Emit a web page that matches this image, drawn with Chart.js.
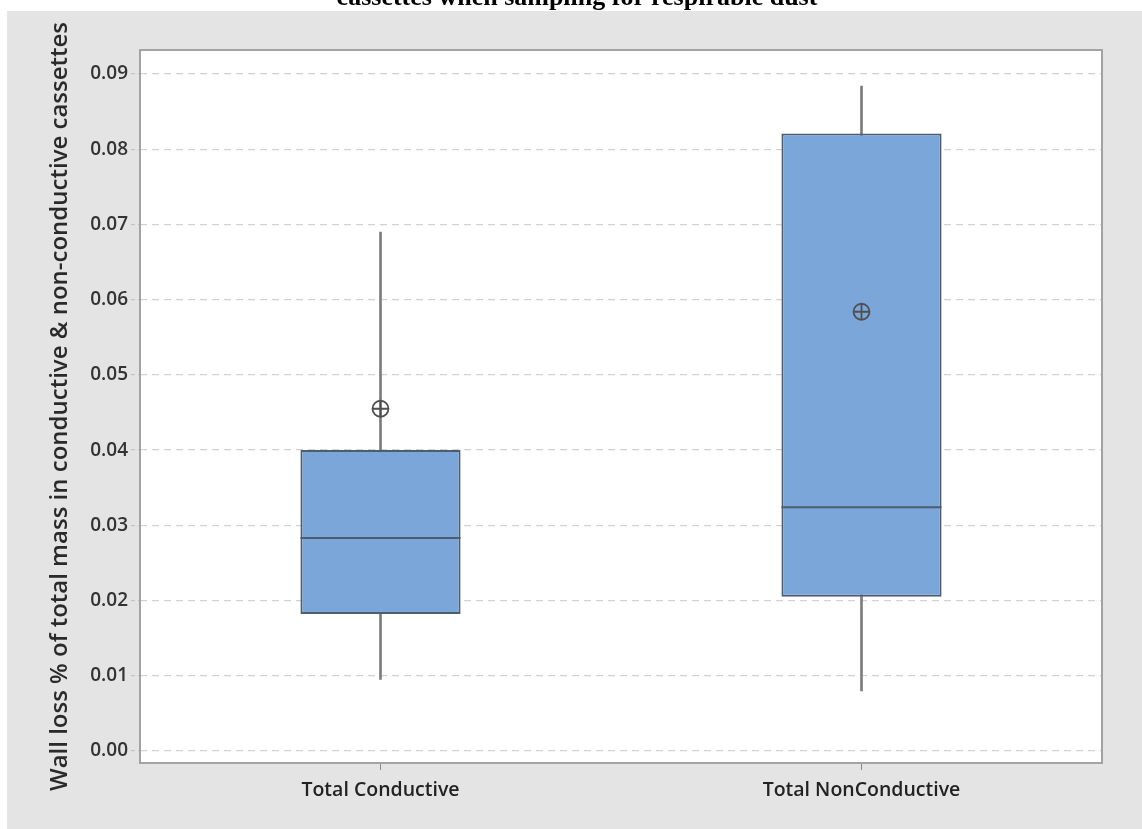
<!DOCTYPE html>
<html><head><meta charset="utf-8">
<script src="https://cdn.jsdelivr.net/npm/chart.js@4/dist/chart.umd.min.js"></script>
<style>
html,body{margin:0;padding:0;background:#fff;width:1142px;height:829px;overflow:hidden;}
#wrap{position:absolute;left:0;top:0;width:1142px;height:829px;}
#title{position:absolute;left:0;width:1154px;top:-16px;text-align:center;font-family:'Liberation Serif','Times New Roman',serif;font-weight:bold;font-size:26px;line-height:26px;white-space:nowrap;color:#000;z-index:2;}
</style></head><body>
<div id="wrap"><canvas id="c" width="1142" height="829"></canvas></div>
<div id="title">cassettes when sampling for respirable dust</div>
<script>
const categories = ['Total Conductive', 'Total NonConductive'];
const whiskerLow = [0.0095, 0.0080];
const q1 = [0.0182, 0.0205];
const median = [0.0283, 0.0324];
const q3 = [0.0400, 0.0821];
const whiskerHigh = [0.0690, 0.0884];
const mean = [0.0455, 0.0584];
const yTicks = [0.00, 0.01, 0.02, 0.03, 0.04, 0.05, 0.06, 0.07, 0.08, 0.09];
const yTitle = 'Wall loss % of total mass in conductive & non-conductive cassettes';

const panel = {
  id: 'panel',
  beforeDraw(chart) {
    const {ctx, chartArea: a} = chart;
    ctx.save();
    ctx.fillStyle = '#ffffff';
    ctx.fillRect(0, 0, chart.width, chart.height);
    ctx.fillStyle = '#e4e4e4';
    ctx.fillRect(7, 11, chart.width - 7, chart.height - 11);
    ctx.fillStyle = '#ffffff';
    ctx.fillRect(a.left, a.top, a.right - a.left, a.bottom - a.top);
    ctx.restore();
  },
  afterDraw(chart) {
    const {ctx, chartArea: a} = chart;
    ctx.save();
    ctx.strokeStyle = '#a3a3a3';
    ctx.lineWidth = 2;
    ctx.strokeRect(a.left, a.top, a.right - a.left, a.bottom - a.top);
    ctx.restore();
  }
};

const boxColor = '#7ba6d9';
const edgeColor = '#4d5d70';

new Chart(document.getElementById('c'), {
  data: {
    labels: categories,
    datasets: [
      {
        type: 'bar', label: 'whisker', order: 4, grouped: false,
        data: categories.map((_, i) => [whiskerLow[i], whiskerHigh[i]]),
        backgroundColor: '#7c7c7c', borderWidth: 0, maxBarThickness: 2,
        categoryPercentage: 1, barPercentage: 1
      },
      {
        type: 'bar', label: 'box', order: 3, grouped: false,
        data: categories.map((_, i) => [q1[i], q3[i]]),
        backgroundColor: boxColor, borderColor: edgeColor, borderWidth: 2, borderSkipped: false,
        categoryPercentage: 1, barPercentage: 0.333
      },
      {
        type: 'line', label: 'median', order: 2, showLine: false,
        data: median,
        pointStyle: 'line', pointRadius: 80, pointHoverRadius: 80,
        pointBorderColor: edgeColor, pointBorderWidth: 2, pointBackgroundColor: edgeColor
      },
      {
        type: 'line', label: 'mean', order: 1, showLine: false,
        data: mean,
        pointStyle: 'circle', pointRadius: 8, pointHoverRadius: 8,
        pointBorderColor: '#505050', pointBorderWidth: 1.8, pointBackgroundColor: 'rgba(0,0,0,0)'
      },
      {
        type: 'line', label: 'meanCross', order: 0, showLine: false,
        data: mean,
        pointStyle: 'cross', pointRadius: 8, pointHoverRadius: 8,
        pointBorderColor: '#505050', pointBorderWidth: 1.8
      }
    ]
  },
  options: {
    responsive: false,
    animation: false,
    events: [],
    layout: {autoPadding: false, padding: {left: 0, top: 50, right: 40, bottom: 0}},
    plugins: {legend: {display: false}, tooltip: {enabled: false}, title: {display: false}},
    scales: {
      x: {
        type: 'category', offset: true,
        afterFit(s) { s.height = 66; },
        grid: {display: true, drawOnChartArea: false, drawTicks: true, offset: false, tickLength: 7, tickColor: '#8a8a8a', tickWidth: 1},
        border: {display: false},
        ticks: {color: '#222', padding: 9, font: {family: "'Open Sans'", size: 19.5, weight: '600'}}
      },
      y: {
        type: 'linear', min: -0.0016, max: 0.0932,
        afterFit(s) { s.width = 140; },
        afterBuildTicks(s) { s.ticks = yTicks.map(v => ({value: v})); },
        grid: {color: '#d2d2d2', lineWidth: 1.3, drawTicks: true, tickLength: 9, tickColor: '#c4c4c4', tickBorderDash: [4, 3]},
        border: {display: false, dash: [7, 5]},
        ticks: {color: '#333', padding: 3, font: {family: "'Open Sans'", size: 19, weight: '600'},
          callback: v => Number(v).toFixed(2)},
        title: {display: true, text: yTitle, color: '#2a2a2a', padding: {top: 46, bottom: 0},
          font: {family: "'Open Sans'", size: 24, weight: '600'}}
      }
    }
  },
  plugins: [panel]
});
</script>
</body></html>
